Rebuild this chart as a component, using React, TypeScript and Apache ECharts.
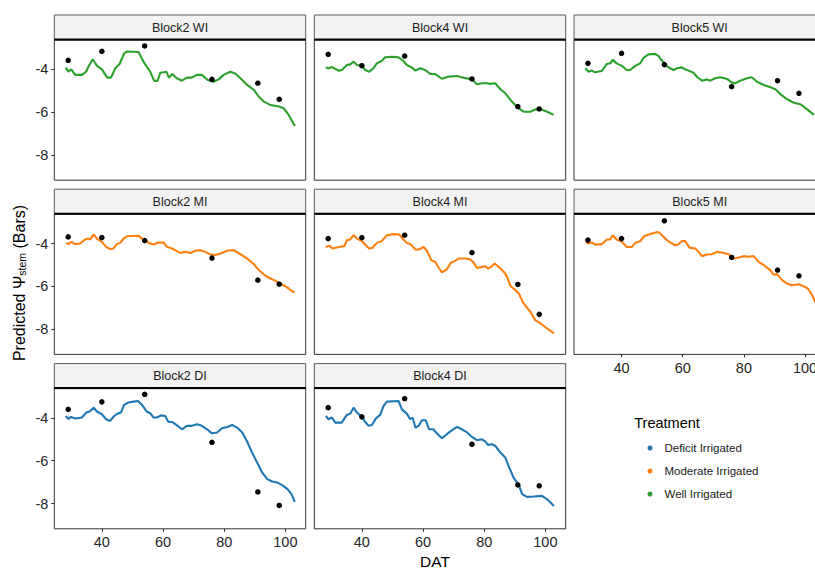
import React, { useEffect, useRef } from "react";
import * as echarts from "echarts";

// ---------- data ----------
const obsDat = [29, 40, 54, 76, 91, 98];
const xTicks = [40, 60, 80, 100];
const yTicks = [-8, -6, -4];
const treatments = ["Deficit Irrigated", "Moderate Irrigated", "Well Irrigated"];
const treatmentColors = ["#1F77B4", "#FF7F0E", "#2CA02C"];
const panelTitles = ["Block2 WI", "Block4 WI", "Block5 WI", "Block2 MI", "Block4 MI", "Block5 MI", "Block2 DI", "Block4 DI"];
const panelTreatment = [2, 2, 2, 1, 1, 1, 0, 0];

const block2WiLine = [[28.2,-3.92],[29.1,-4.11],[30,-4.0],[31.3,-4.26],[33.5,-4.26],[34.9,-4.1],[35.6,-3.88],[37,-3.53],[38.4,-3.84],[40,-4.0],[41.8,-4.39],[43,-4.39],[44.4,-3.95],[45.8,-3.75],[47.3,-3.25],[48.2,-3.17],[52,-3.19],[53.6,-3.64],[54.7,-3.88],[55.8,-4.11],[57.1,-4.54],[58.2,-4.54],[59.1,-4.16],[60.2,-4.14],[61.1,-4.11],[61.9,-4.39],[63,-4.22],[64.5,-4.42],[66.2,-4.53],[67.8,-4.39],[69.4,-4.39],[71.1,-4.26],[72.7,-4.26],[74.6,-4.5],[76.5,-4.58],[78.2,-4.47],[79.8,-4.26],[82,-4.11],[83.6,-4.19],[85.3,-4.42],[87.5,-4.73],[89.7,-4.96],[91.3,-5.28],[93,-5.51],[95.2,-5.67],[97.9,-5.74],[99.5,-5.82],[100.9,-6.09],[102,-6.37],[103.1,-6.65]];
const block4WiLine = [[28.2,-3.92],[29.3,-3.95],[30.1,-3.89],[32.4,-4.06],[33.5,-4.03],[35.1,-3.8],[36.2,-3.77],[37.3,-3.64],[38.4,-3.8],[40,-3.84],[41.1,-4.03],[42.4,-4.11],[43.8,-3.95],[44.9,-3.72],[46.5,-3.61],[47.6,-3.44],[49.8,-3.41],[52,-3.44],[53.6,-3.61],[54.7,-3.8],[56.3,-3.91],[57.5,-4.06],[59.1,-3.95],[60.7,-4.03],[62.4,-4.22],[64,-4.22],[66.2,-4.44],[68.4,-4.34],[71.1,-4.31],[73.3,-4.39],[76,-4.47],[77.6,-4.7],[79.3,-4.65],[80.9,-4.65],[82,-4.68],[83.6,-4.65],[85.3,-4.93],[86.9,-5.12],[88.6,-5.43],[89.6,-5.59],[91.3,-5.82],[92.9,-5.98],[95.1,-5.98],[96.7,-5.87],[98.4,-5.87],[100.6,-5.98],[102.7,-6.13]];
const block5WiLine = [[28.1,-3.95],[29.2,-4.11],[30.3,-4.06],[31.3,-4.14],[33.5,-4.08],[35.2,-3.75],[36.3,-3.72],[37.1,-3.56],[38.4,-3.72],[40.1,-3.84],[41.7,-4.03],[42.8,-4.03],[44.5,-3.84],[46.1,-3.72],[47.2,-3.46],[48.8,-3.3],[51,-3.28],[52.1,-3.38],[54.3,-3.8],[55.9,-3.95],[57,-4.03],[58.1,-3.95],[59.7,-3.91],[60.8,-4.0],[61.9,-4.06],[63.5,-4.16],[64.8,-4.37],[66.3,-4.53],[67.9,-4.47],[69,-4.53],[70.6,-4.42],[72.3,-4.37],[74.5,-4.45],[76.1,-4.62],[77.2,-4.65],[78.8,-4.53],[81,-4.42],[82.6,-4.37],[84.3,-4.58],[86.5,-4.73],[88.7,-4.84],[90.3,-4.93],[92,-5.17],[94.2,-5.4],[96.3,-5.56],[98.5,-5.63],[100.7,-5.87],[102.9,-6.13]];
const block2MiLine = [[28.3,-3.97],[29.1,-4.03],[30,-3.92],[31.3,-4.03],[32.9,-4.0],[34.5,-3.81],[35.6,-3.77],[36.2,-3.81],[37.3,-3.58],[38.4,-3.77],[40,-3.92],[41.4,-4.16],[42.7,-4.26],[43.8,-4.23],[44.9,-4.03],[46,-3.97],[47.1,-3.77],[48.2,-3.66],[52,-3.64],[53.1,-3.77],[54.2,-3.84],[55.3,-3.97],[57,-4.05],[58,-3.97],[60.2,-3.95],[61.3,-4.16],[62.4,-4.2],[64,-4.31],[65.6,-4.44],[67.3,-4.39],[69,-4.44],[70.5,-4.34],[72.2,-4.31],[73.8,-4.39],[75.5,-4.51],[77.1,-4.54],[78.8,-4.47],[80.9,-4.34],[83.1,-4.31],[85.3,-4.5],[87.5,-4.7],[89.7,-4.96],[91.3,-5.24],[93,-5.45],[94.6,-5.6],[96.3,-5.71],[98.4,-5.87],[100.6,-6.05],[102.2,-6.23],[103,-6.29]];
const block4MiLine = [[28.2,-4.16],[29.3,-4.1],[30.4,-4.23],[32.4,-4.16],[34.3,-4.12],[35.1,-3.84],[36.2,-3.81],[37.3,-3.61],[38.4,-3.77],[40,-3.88],[41.3,-4.08],[42.4,-4.23],[43.5,-4.2],[44.9,-3.97],[46.5,-3.89],[48.2,-3.61],[50.4,-3.56],[52.2,-3.58],[53.6,-3.81],[54.7,-3.97],[56.1,-4.05],[57.5,-4.28],[58.6,-4.28],[60.2,-4.16],[61.3,-4.34],[62.7,-4.78],[64,-4.86],[65.1,-5.12],[66.2,-5.35],[67.8,-5.2],[69.1,-4.9],[70.5,-4.81],[71.6,-4.7],[73.8,-4.7],[75.5,-4.75],[76.6,-4.9],[77.6,-5.14],[79.3,-5.09],[80.4,-5.06],[81.2,-5.17],[82,-5.12],[83.4,-4.93],[84.7,-5.09],[86.7,-5.37],[87.5,-5.56],[88.6,-5.99],[89.6,-6.1],[91.3,-6.33],[92.9,-6.8],[95.1,-7.19],[96.7,-7.58],[98.4,-7.73],[100.6,-7.97],[102.8,-8.2]];
const block5MiLine = [[28.3,-3.92],[29.2,-4.0],[30.3,-3.95],[31.4,-4.05],[33.5,-4.03],[35.2,-3.81],[36.3,-3.81],[37.1,-3.61],[38.4,-3.81],[40.1,-3.92],[41.7,-4.16],[43.4,-4.16],[44.5,-3.97],[46.1,-3.89],[47.4,-3.66],[49.4,-3.56],[51.8,-3.46],[52.6,-3.53],[54.3,-3.77],[55.9,-3.95],[57.5,-4.08],[58.6,-4.03],[59.7,-3.89],[60.8,-3.89],[62.2,-4.19],[64.1,-4.23],[65.2,-4.39],[66.3,-4.59],[67.9,-4.51],[69.5,-4.5],[71.2,-4.39],[73.4,-4.44],[75,-4.5],[76.6,-4.7],[78.3,-4.65],[79.9,-4.59],[81.5,-4.62],[83.2,-4.59],[84.8,-4.86],[86.5,-5.01],[88.6,-5.24],[89.7,-5.45],[90.8,-5.43],[92.5,-5.71],[94.1,-5.87],[95.7,-5.95],[97.9,-5.9],[99.5,-5.99],[100.9,-6.1],[102.3,-6.41],[103.5,-6.78]];
const block2DiLine = [[28.2,-3.91],[29.1,-4.05],[29.9,-3.95],[31.3,-4.03],[33.5,-3.98],[34.9,-3.75],[36,-3.7],[37.3,-3.52],[38.4,-3.7],[40,-3.83],[41.4,-4.06],[42.7,-4.14],[44,-3.91],[45.1,-3.8],[46.2,-3.75],[47.3,-3.39],[48.7,-3.28],[50.4,-3.24],[51.8,-3.21],[53.1,-3.39],[54.7,-3.7],[55.8,-3.78],[56.9,-3.98],[58,-3.98],[59.3,-3.88],[60.7,-3.91],[61.8,-4.19],[62.9,-4.19],[64.5,-4.34],[66.2,-4.53],[67.8,-4.37],[69.5,-4.37],[71.1,-4.3],[72.7,-4.37],[74.4,-4.53],[76,-4.72],[77.7,-4.68],[79.3,-4.48],[81,-4.42],[82.6,-4.33],[84.2,-4.45],[85.9,-4.68],[87.5,-5.1],[89.1,-5.62],[90.8,-6.09],[92.4,-6.55],[94.1,-6.86],[95.7,-6.97],[97.4,-7.02],[99,-7.14],[100.7,-7.33],[102,-7.56],[103.1,-7.92]];
const block4DiLine = [[28.2,-3.91],[29.1,-4.06],[30.2,-3.98],[31.3,-4.22],[33.4,-4.22],[35.1,-3.86],[36.2,-3.8],[37.3,-3.52],[38.4,-3.75],[40,-3.95],[41.1,-4.19],[42.2,-4.37],[43.3,-4.33],[44.6,-4.02],[46,-3.86],[47.1,-3.44],[48.2,-3.24],[52,-3.21],[53.1,-3.6],[54.7,-3.8],[55.8,-4.06],[56.6,-3.98],[57.5,-4.45],[58.6,-4.37],[59.6,-4.11],[60.9,-4.11],[62,-4.53],[63.4,-4.53],[64.5,-4.72],[66.2,-4.95],[67.8,-4.76],[69.4,-4.58],[71.1,-4.42],[72.7,-4.53],[74.4,-4.68],[76,-4.89],[77.6,-5.04],[79.3,-5.0],[80.4,-5.11],[81.2,-5.26],[82.5,-5.23],[83.6,-5.3],[85.3,-5.62],[86.9,-5.85],[88.2,-6.32],[89.6,-6.79],[91.3,-7.13],[92.4,-7.56],[94,-7.69],[96.2,-7.67],[98.9,-7.64],[100.6,-7.8],[102.8,-8.11]];

const block2WiObs = [-3.58, -3.16, -2.91, -4.47, -4.65, -5.40];
const block4WiObs = [-3.30, -3.83, -3.38, -4.45, -5.74, -5.85];
const block5WiObs = [-3.72, -3.25, -3.78, -4.81, -4.53, -5.12];
const block2MiObs = [-3.69, -3.72, -3.86, -4.68, -5.71, -5.90];
const block4MiObs = [-3.77, -3.72, -3.61, -4.42, -5.91, -7.31];
const block5MiObs = [-3.84, -3.77, -2.94, -4.65, -5.24, -5.51];
const block2DiObs = [-3.60, -3.25, -2.90, -5.14, -7.46, -8.09];
const block4DiObs = [-3.52, -3.95, -3.10, -5.23, -7.13, -7.17];

const panelLines = [block2WiLine, block4WiLine, block5WiLine, block2MiLine, block4MiLine, block5MiLine, block2DiLine, block4DiLine];
const panelObs = [block2WiObs, block4WiObs, block5WiObs, block2MiObs, block4MiObs, block5MiObs, block2DiObs, block4DiObs];

// ---------- layout ----------
const X_MIN = 24.45;
const X_MAX = 106.65;
const Y_MIN = -9.18;
const Y_MAX = -2.63;
const COL_LEFT = [54.3, 314.3, 574];
const PANEL_W = 251.4;
const ROW_TOP = [40, 214.2, 388.6];
const PANEL_H = 140.2;
const STRIP_H = 25;
const FONT = "Liberation Sans, Arial, sans-serif";
const BOTTOM_PANELS = [5, 6, 7];
const CANVAS_W = 830;

export default function App() {
  const ref = useRef<HTMLDivElement>(null);

  useEffect(() => {
    if (!ref.current) return;
    const chart = echarts.init(ref.current, undefined, { renderer: "svg" });

    const grids: any[] = [];
    const xAxes: any[] = [];
    const yAxes: any[] = [];
    const series: any[] = [];
    const graphics: any[] = [];

    panelTitles.forEach((title, i) => {
      const row = Math.floor(i / 3);
      const col = i % 3;
      const left = COL_LEFT[col];
      const top = ROW_TOP[row];
      grids.push({
        left,
        top,
        width: PANEL_W,
        height: PANEL_H,
        show: true,
        borderColor: "#333333",
        borderWidth: 1,
        backgroundColor: "#ffffff",
        containLabel: false,
      });
      const showX = BOTTOM_PANELS.includes(i);
      const showY = col === 0;
      xAxes.push({
        type: "value",
        gridIndex: i,
        min: X_MIN,
        max: X_MAX,
        axisLine: { show: false },
        splitLine: { show: false },
        axisTick: {
          show: showX,
          length: 3,
          customValues: xTicks,
          lineStyle: { color: "#333333", width: 1 },
        },
        axisLabel: {
          show: showX,
          customValues: xTicks,
          margin: 6,
          fontSize: 14.5,
          color: "#262626",
          fontFamily: FONT,
        },
      });
      yAxes.push({
        type: "value",
        gridIndex: i,
        min: Y_MIN,
        max: Y_MAX,
        axisLine: { show: false },
        splitLine: { show: false },
        axisTick: {
          show: showY,
          length: 3,
          customValues: yTicks,
          lineStyle: { color: "#333333", width: 1 },
        },
        axisLabel: {
          show: showY,
          customValues: yTicks,
          margin: 6,
          fontSize: 14.5,
          color: "#262626",
          fontFamily: FONT,
        },
      });
      const t = panelTreatment[i];
      series.push({
        type: "line",
        name: treatments[t],
        xAxisIndex: i,
        yAxisIndex: i,
        data: panelLines[i],
        showSymbol: false,
        symbol: "circle",
        smooth: false,
        clip: true,
        lineStyle: { color: treatmentColors[t], width: 2.1 },
        itemStyle: { color: treatmentColors[t] },
        z: 2,
      });
      series.push({
        type: "scatter",
        name: "Observed",
        xAxisIndex: i,
        yAxisIndex: i,
        data: obsDat.map((d, k) => [d, panelObs[i][k]]),
        symbol: "circle",
        symbolSize: 5.5,
        itemStyle: { color: "#000000", opacity: 1 },
        z: 3,
      });
      // strip
      graphics.push({
        type: "rect",
        shape: { x: left, y: top - STRIP_H, width: PANEL_W, height: STRIP_H },
        style: { fill: "#F2F2F2", stroke: "#5a5a5a", lineWidth: 1 },
        silent: true,
        z: 10,
      });
      graphics.push({
        type: "line",
        shape: { x1: left, y1: top - 0.5, x2: left + PANEL_W, y2: top - 0.5 },
        style: { stroke: "#000000", lineWidth: 2 },
        silent: true,
        z: 11,
      });
      graphics.push({
        type: "text",
        x: left + PANEL_W / 2,
        y: top - STRIP_H / 2,
        style: {
          text: title,
          fill: "#1a1a1a",
          font: `12.5px ${FONT}`,
          align: "center",
          verticalAlign: "middle",
        },
        silent: true,
        z: 12,
      });
    });

    // axis titles
    graphics.push({
      type: "text",
      x: 435,
      y: 561,
      style: {
        text: "DAT",
        fill: "#000000",
        font: `15.5px ${FONT}`,
        align: "center",
        verticalAlign: "middle",
      },
      silent: true,
    });
    graphics.push({
      type: "text",
      x: 17,
      y: 283,
      rotation: Math.PI / 2,
      style: {
        text: "{a|Predicted Ψ}{b|stem}{a| (Bars)}",
        align: "center",
        verticalAlign: "middle",
        rich: {
          a: { fontSize: 16, fontFamily: FONT, fill: "#000000", lineHeight: 20, verticalAlign: "bottom" },
          b: { fontSize: 10.5, fontFamily: FONT, fill: "#000000", lineHeight: 10, verticalAlign: "bottom" },
        },
      },
      silent: true,
    });
    // legend title
    graphics.push({
      type: "text",
      x: 634.3,
      y: 423,
      style: {
        text: "Treatment",
        fill: "#000000",
        font: `14.5px ${FONT}`,
        align: "left",
        verticalAlign: "middle",
      },
      silent: true,
    });

    chart.setOption({
      animation: false,
      backgroundColor: "#ffffff",
      grid: grids,
      xAxis: xAxes,
      yAxis: yAxes,
      series,
      legend: {
        data: treatments.map((name) => ({ name, icon: "circle" })),
        orient: "vertical",
        left: 642.5,
        top: 436,
        itemWidth: 5,
        itemHeight: 5,
        itemGap: 9,
        selectedMode: false,
        textStyle: {
          fontSize: 11.5,
          fontFamily: FONT,
          color: "#1a1a1a",
          lineHeight: 14,
          padding: [0, 0, 0, 7],
        },
      },
      graphic: graphics,
    });

    return () => chart.dispose();
  }, []);

  return (
    <div style={{ position: "absolute", left: 0, top: 0, width: 815, height: 569, overflow: "hidden" }}>
      <div ref={ref} style={{ width: CANVAS_W, height: 569 }} />
    </div>
  );
}
